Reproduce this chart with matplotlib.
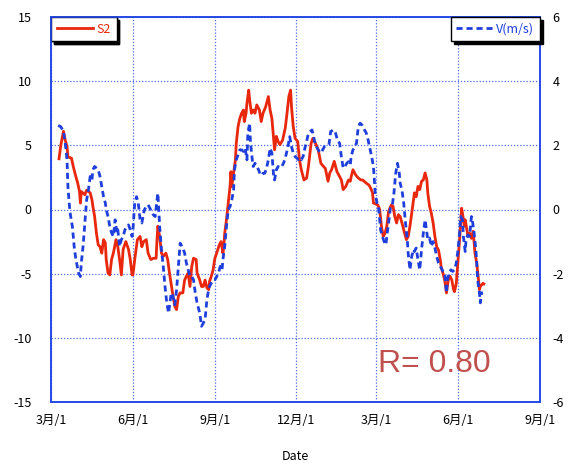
import numpy as np
import matplotlib
matplotlib.use("Agg")
import matplotlib.pyplot as plt
import matplotlib.dates as mdates
from matplotlib.ticker import FixedLocator, FuncFormatter

# ---- data (day offsets from 2010-03-01) ----
s2_days = [9, 11, 14, 16, 18, 19, 23, 25, 27, 30, 32, 33, 34, 38, 40, 44, 46, 47, 49, 51,
           53, 55, 57, 59, 61, 62, 64, 66, 68, 70, 73, 75, 77, 79, 81, 84, 87, 89, 91, 92,
           94, 97, 100, 102, 104, 107, 109, 112, 115, 118, 119, 120, 122, 124, 126, 129, 131, 133, 135, 137,
           139, 141, 143, 145, 148, 150, 152, 154, 156, 158, 160, 163, 164, 167, 169, 171, 173, 175, 177, 178,
           180, 182, 184, 186, 189, 191, 193, 194, 195, 197, 199, 201, 202, 203, 205, 207, 208, 210, 212, 214,
           216, 217, 219, 220, 222, 223, 225, 227, 229, 231, 234, 236, 238, 241, 244, 246, 248, 250, 251, 253,
           255, 257, 260, 263, 265, 267, 269, 270, 272, 274, 277, 279, 281, 284, 287, 289, 292, 294, 297, 300,
           303, 306, 308, 311, 313, 315, 318, 321, 323, 326, 328, 331, 334, 336, 337, 339, 342, 345, 348, 350,
           354, 357, 359, 361, 362, 364, 367, 369, 371, 373, 375, 377, 379, 382, 384, 386, 388, 390, 392, 395,
           397, 399, 401, 403, 405, 407, 408, 410, 412, 414, 416, 418, 420, 422, 423, 425, 427, 429, 431, 433,
           435, 437, 438, 440, 442, 444, 446, 448, 450, 452, 453, 455, 457, 459, 461, 462, 464, 465, 467, 468,
           470, 472, 474, 476, 478, 480, 481, 482, 485, 486]
s2_vals = [3.95, 5.0, 6.1, 5.4, 4.9, 4.1, 4.0, 3.35, 2.8, 2.05, 1.4, 0.5, 1.4, 1.15, 1.5, 1.3, 0.75, 0.25, -0.55, -1.85,
           -2.75, -2.9, -3.4, -2.35, -2.6, -3.9, -4.95, -5.1, -3.9, -3.4, -2.35, -2.9, -3.9, -5.1, -3.1, -2.5, -3.1, -3.9, -5.1, -5.1,
           -3.9, -2.35, -2.1, -2.9, -2.5, -2.35, -3.4, -3.9, -3.8, -3.8, -2.35, -1.3, -2.1, -3.4, -3.65, -3.4, -3.9, -4.95, -5.85, -6.75,
           -7.55, -7.8, -6.75, -6.5, -6.5, -5.5, -5.2, -4.95, -6.0, -4.45, -3.8, -3.9, -4.95, -5.5, -6.0, -6.0, -5.5, -6.1, -6.25, -5.6,
           -5.2, -4.7, -3.8, -3.4, -2.75, -2.5, -3.4, -2.9, -1.85, -0.8, 0.5, 1.8, 2.95, 1.8, 2.85, 3.85, 5.15, 6.45, 7.1, 7.5,
           7.75, 6.85, 7.5, 8.3, 9.3, 8.55, 7.5, 7.75, 7.5, 8.15, 7.75, 6.85, 7.5, 8.0, 8.8, 7.75, 7.1, 5.4, 4.65, 5.7,
           5.3, 5.05, 5.4, 6.35, 7.5, 8.8, 9.3, 8.0, 6.45, 5.55, 5.3, 3.85, 3.1, 2.3, 2.45, 3.35, 5.15, 5.55, 5.15, 4.65,
           3.6, 3.35, 3.2, 2.2, 2.85, 3.1, 3.75, 2.95, 2.7, 2.3, 1.55, 1.8, 2.3, 2.2, 2.55, 3.1, 2.7, 2.45, 2.3, 2.3,
           2.05, 1.9, 1.65, 1.3, 0.5, 0.45, 0.35, 0.0, -1.3, -2.1, -1.85, -1.3, -0.15, 0.35, 0.25, -0.55, -1.05, -0.4, -0.55, -1.3,
           -1.85, -2.35, -2.1, -1.3, -0.3, 0.75, 1.3, 1.0, 1.8, 1.55, 2.2, 2.3, 2.85, 2.3, 1.3, 0.25, -0.3, -1.05, -2.1, -2.9,
           -3.15, -3.9, -4.45, -4.95, -5.5, -6.5, -5.5, -5.2, -5.5, -6.25, -6.4, -5.75, -3.9, -2.1, 0.1, -0.3, -1.3, -0.8, -1.6, -2.1,
           -1.85, -2.25, -1.7, -3.4, -4.2, -5.5, -6.25, -6.0, -5.75, -5.8]

v_days = [8, 11, 14, 16, 18, 19, 21, 22, 24, 26, 28, 31, 33, 34, 36, 38, 40, 42, 44, 46,
          47, 49, 51, 53, 55, 57, 59, 61, 62, 64, 66, 68, 70, 72, 74, 75, 77, 79, 81, 83,
          85, 87, 89, 91, 92, 94, 96, 98, 100, 102, 104, 105, 107, 109, 111, 113, 115, 117, 119, 120,
          122, 124, 126, 128, 130, 132, 134, 135, 137, 139, 141, 143, 145, 147, 148, 150, 152, 154, 156, 158,
          160, 162, 164, 165, 167, 169, 171, 173, 175, 177, 178, 180, 182, 184, 186, 188, 190, 192, 193, 195,
          197, 199, 201, 203, 205, 206, 208, 210, 212, 214, 216, 218, 220, 221, 223, 224, 226, 227, 229, 231,
          233, 235, 237, 238, 240, 242, 244, 246, 248, 250, 251, 253, 255, 257, 259, 261, 263, 265, 266, 268,
          270, 272, 274, 276, 278, 280, 281, 283, 285, 287, 289, 291, 293, 294, 296, 298, 300, 302, 304, 306,
          307, 309, 312, 314, 317, 319, 321, 322, 324, 326, 328, 330, 332, 334, 336, 337, 339, 341, 343, 345,
          347, 349, 350, 352, 354, 356, 358, 360, 362, 363, 364, 366, 368, 369, 370, 372, 374, 376, 377, 379,
          381, 383, 385, 387, 389, 391, 392, 394, 396, 398, 400, 401, 403, 405, 407, 408, 410, 412, 414, 416,
          418, 420, 422, 423, 425, 427, 429, 431, 433, 435, 437, 438, 440, 442, 444, 445, 447, 449, 451, 453,
          455, 457, 459, 460, 462, 463, 465, 466, 468, 470, 472, 473, 475, 477, 478, 479, 481, 482, 483, 485]
v_vals = [2.62, 2.58, 2.43, 2.07, 1.55, 0.72, 0.0, -0.2, -0.53, -1.15, -1.57, -1.98, -2.09, -1.67, -1.15, -0.42, 0.3, 0.61, 1.03, 0.92,
          1.24, 1.34, 1.29, 1.24, 1.03, 0.72, 0.4, 0.2, 0.0, -0.22, -0.53, -0.73, -0.84, -0.32, -0.73, -0.63, -1.15, -0.94, -0.84, -0.63,
          -0.53, -0.48, -0.63, -0.84, -0.63, 0.2, 0.4, 0.2, -0.32, -0.42, -0.11, 0.0, 0.09, 0.15, 0.04, -0.06, -0.17, -0.22, 0.3, 0.51,
          -0.53, -1.25, -1.77, -2.4, -2.91, -3.23, -2.81, -2.6, -2.71, -2.97, -2.5, -1.77, -1.05, -1.15, -1.2, -1.36, -1.67, -1.88, -2.09, -2.09,
          -2.19, -2.6, -2.91, -3.02, -3.23, -3.64, -3.54, -3.43, -2.81, -2.5, -2.4, -2.29, -2.19, -2.19, -2.09, -1.98, -1.77, -1.88, -1.57, -1.15,
          -0.53, 0.0, 0.09, 0.3, 0.61, 1.24, 1.55, 1.7, 1.86, 1.86, 1.81, 1.91, 1.55, 2.38, 2.69, 2.07, 1.55, 1.34, 1.44, 1.34,
          1.24, 1.08, 1.08, 1.13, 1.13, 1.29, 1.55, 1.91, 1.76, 1.03, 0.92, 1.24, 1.34, 1.3, 1.34, 1.44, 1.6, 1.85, 1.96, 2.27,
          1.96, 1.76, 1.65, 1.6, 1.55, 1.6, 1.55, 1.65, 1.91, 2.12, 2.38, 2.43, 2.48, 2.38, 2.12, 1.96, 1.86, 1.76, 1.81, 1.91,
          1.96, 1.96, 2.01, 2.43, 2.48, 2.43, 2.22, 2.12, 2.07, 1.65, 1.29, 1.34, 1.44, 1.49, 1.39, 1.65, 1.86, 1.96, 2.07, 2.58,
          2.69, 2.64, 2.58, 2.48, 2.38, 2.17, 1.91, 1.65, 1.34, 0.92, 0.51, 0.2, 0.0, -0.32, -0.63, -0.84, -1.0, -1.1, -0.84, -0.42,
          0.04, 0.09, 0.51, 1.13, 1.44, 1.13, 0.82, 0.61, 0.2, -0.42, -0.94, -1.36, -1.88, -1.46, -1.25, -1.31, -1.2, -1.57, -1.88, -1.25,
          -0.73, -0.32, -0.73, -0.94, -0.89, -1.15, -1.0, -1.2, -1.46, -1.67, -1.77, -1.82, -1.93, -1.98, -2.6, -2.19, -1.98, -1.88, -1.93, -1.88,
          -1.67, -1.25, -0.63, -0.22, -0.32, -0.84, -1.31, -0.94, -0.79, -0.84, -0.22, -0.32, -0.73, -1.25, -1.67, -2.19, -2.6, -2.91, -2.6, -2.6]

start_date = "2010-03-01"
end_date = "2011-09-01"
tick_dates = ["2010-03-01", "2010-06-01", "2010-09-01", "2010-12-01",
              "2011-03-01", "2011-06-01", "2011-09-01"]
s2_label = "S2"
v_label = "V(m/s)"
x_label = "Date"
r_text = "R= 0.80"

# ---- figure ----
cjk = ["Noto Sans CJK JP", "DejaVu Sans"]
plt.rcParams["font.family"] = cjk
plt.rcParams["axes.unicode_minus"] = False

base = np.datetime64(start_date)
s2_x = base + np.array(s2_days, dtype="timedelta64[D]")
v_x = base + np.array(v_days, dtype="timedelta64[D]")

fig = plt.figure(figsize=(5.76, 4.68), dpi=100)
ax = fig.add_axes([51 / 576, 1 - 402 / 468, 489 / 576, 385 / 468])
ax2 = ax.twinx()

blue = "#2548e6"
red = "#e8270c"
vblue = "#1f3fdc"

l1, = ax.plot(s2_x, s2_vals, color=red, lw=2.0, label=s2_label, zorder=3)
l2, = ax2.plot(v_x, v_vals, color=vblue, lw=2.0, ls=(0, (2.2, 1.4)), label=v_label, zorder=3)

ax.set_xlim(np.datetime64(start_date), np.datetime64(end_date))
ax.set_ylim(-15, 15)
ax2.set_ylim(-6, 6)
ax.set_yticks(np.arange(-15, 16, 5))
ax2.set_yticks(np.arange(-6, 7, 2))

ticks = [mdates.date2num(np.datetime64(d)) for d in tick_dates]
ax.xaxis.set_major_locator(FixedLocator(ticks))
ax.xaxis.set_major_formatter(FuncFormatter(
    lambda v, p: f"{mdates.num2date(v).month}月/1"))

ax.grid(True, color=blue, ls=(0, (1, 1.5)), lw=0.9, alpha=0.8)
for a in (ax, ax2):
    for sp in a.spines.values():
        sp.set_color(blue)
        sp.set_linewidth(1.2)
ax.tick_params(axis="both", length=0, labelsize=9, colors="black")
ax.tick_params(axis="y", pad=14)
ax.tick_params(axis="x", pad=9)
ax2.tick_params(axis="y", length=0, labelsize=9, pad=9, colors="black")
ax.set_xlabel(x_label, fontsize=9, labelpad=16)

leg1 = ax.legend(handles=[l1], loc="upper left", bbox_to_anchor=(0, 1),
                 borderaxespad=0, frameon=True, fancybox=False,
                 shadow={"color": "black", "alpha": 1}, edgecolor="black",
                 fontsize=9, handlelength=2.9, handletextpad=0.3,
                 labelcolor="linecolor", borderpad=0.45)
leg1.get_frame().set_linewidth(1.0)
ax.add_artist(leg1)
leg1.set_zorder(10)
leg2 = ax2.legend(handles=[l2], loc="upper right", bbox_to_anchor=(1, 1),
                  borderaxespad=0, frameon=True, fancybox=False,
                  shadow={"color": "black", "alpha": 1}, edgecolor="black",
                  fontsize=9, handlelength=2.9, handletextpad=0.3,
                  labelcolor="linecolor", borderpad=0.45)
leg2.get_frame().set_linewidth(1.0)

ax2.text(0.669, 0.079, r_text, transform=ax.transAxes, fontsize=23,
         color="#c0504d", family="Liberation Sans", ha="left", va="baseline")

fig.savefig("out.png", dpi=100, facecolor="white")
